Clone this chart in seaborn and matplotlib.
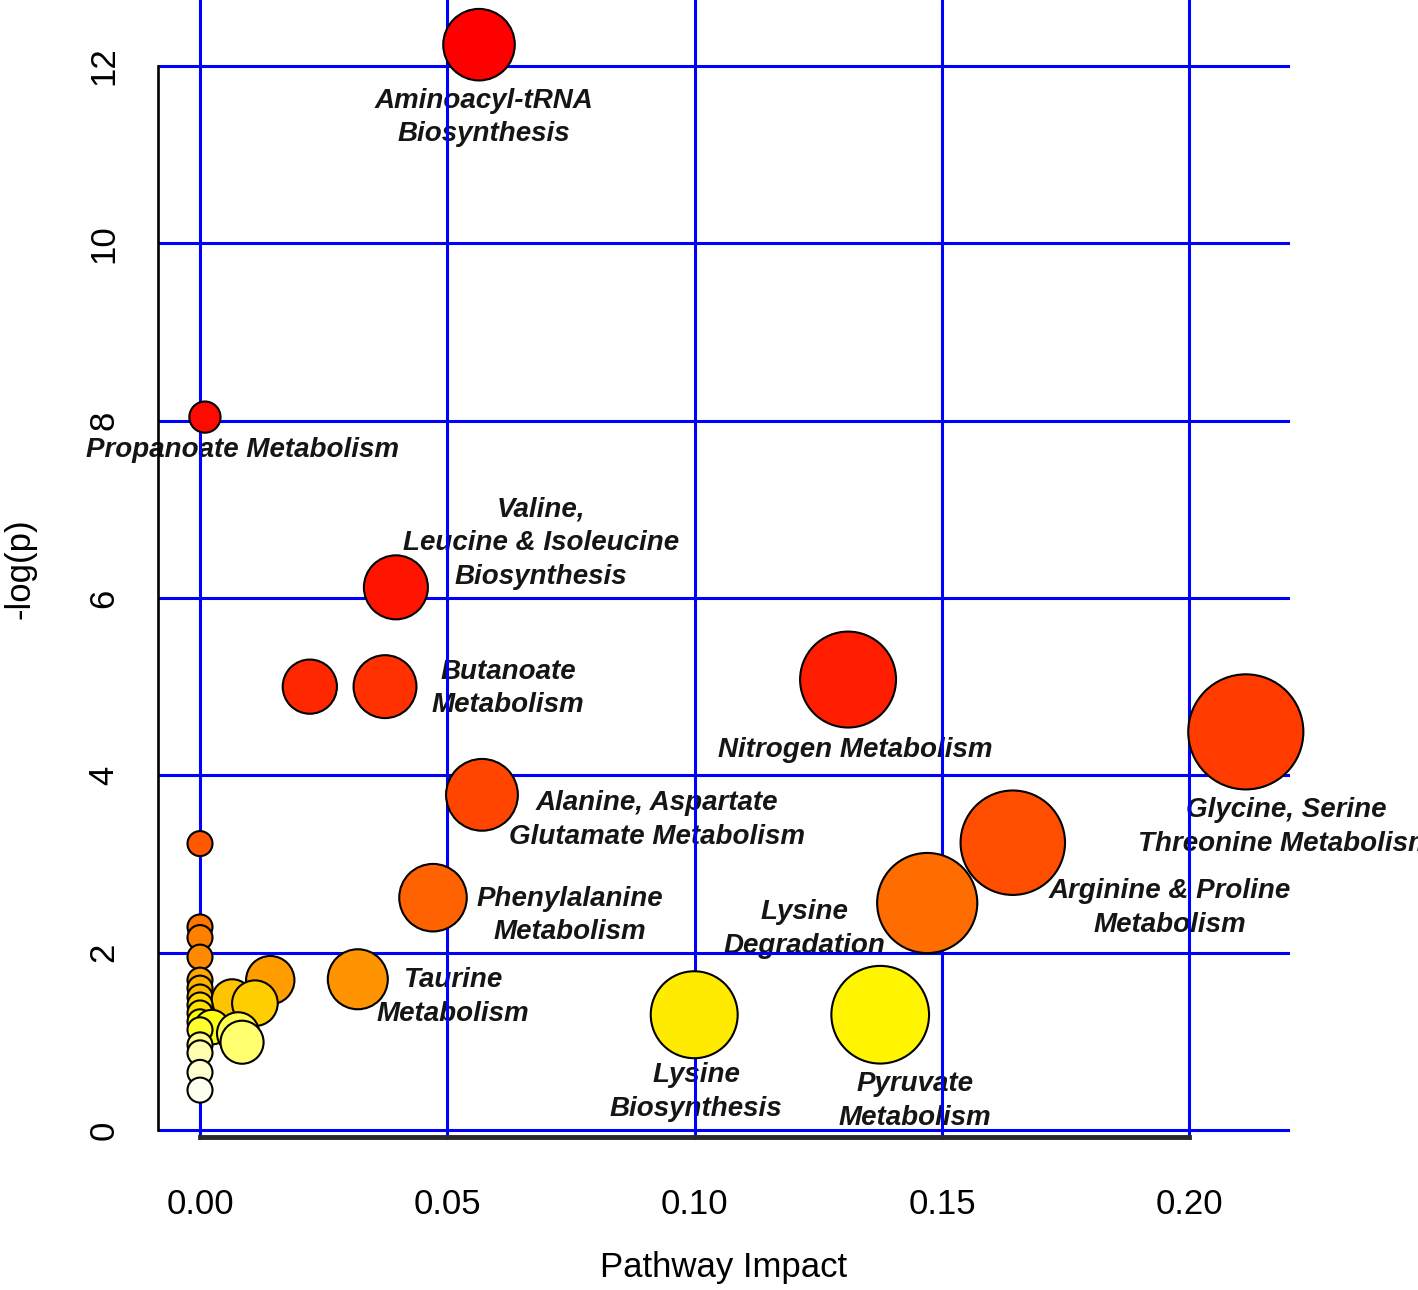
import numpy as np
import pandas as pd
import matplotlib
matplotlib.use("Agg")
import matplotlib.pyplot as plt
import seaborn as sns
import colorsys

# ---------------- data ----------------
pathways = [
    "Aminoacyl-tRNA\nBiosynthesis", "Propanoate Metabolism",
    "Valine,\nLeucine & Isoleucine\nBiosynthesis", "Nitrogen Metabolism",
    "", "Butanoate\nMetabolism", "Glycine, Serine\nThreonine Metabolism",
    "Alanine, Aspartate\nGlutamate Metabolism", "Arginine & Proline\nMetabolism", "",
    "Phenylalanine\nMetabolism", "Lysine\nDegradation", "", "", "",
    "Taurine\nMetabolism", "", "", "", "", "", "", "", "",
    "Lysine\nBiosynthesis", "Pyruvate\nMetabolism", "", "", "", "", "", "", "", "", "",
]
impact = [0.0564, 0.0010, 0.0396, 0.1310, 0.0222, 0.0374, 0.2114, 0.0570, 0.1643, 0.0,
          0.0471, 0.1470, 0.0, 0.0, 0.0, 0.0319, 0.0142, 0.0, 0.0, 0.0,
          0.0065, 0.0111, 0.0, 0.0, 0.0999, 0.1375, 0.0, 0.0024, 0.0, 0.0077,
          0.0085, 0.0, 0.0, 0.0, 0.0]
neglogp = [12.24, 8.04, 6.12, 5.08, 5.00, 5.00, 4.49, 3.78, 3.24, 3.23,
           2.62, 2.56, 2.29, 2.17, 1.95, 1.70, 1.69, 1.69, 1.60, 1.50,
           1.47, 1.43, 1.41, 1.32, 1.30, 1.30, 1.22, 1.16, 1.13, 1.09,
           0.99, 0.96, 0.87, 0.65, 0.45]
x_ticks = [0.00, 0.05, 0.10, 0.15, 0.20]
x_ticklabels = ["0.00", "0.05", "0.10", "0.15", "0.20"]
y_ticks = [0, 2, 4, 6, 8, 10, 12]
y_ticklabels = ["0", "2", "4", "6", "8", "10", "12"]

# label placement (offset from the bubble centre, pixels)
label_offsets = {
    "Aminoacyl-tRNA\nBiosynthesis": (5, -73),
    "Propanoate Metabolism": (38, -33),
    "Valine,\nLeucine & Isoleucine\nBiosynthesis": (145, 44),
    "Butanoate\nMetabolism": (123, -2),
    "Nitrogen Metabolism": (7, -70),
    "Glycine, Serine\nThreonine Metabolism": (40, -95),
    "Alanine, Aspartate\nGlutamate Metabolism": (175, -25),
    "Arginine & Proline\nMetabolism": (157, -65),
    "Phenylalanine\nMetabolism": (137, -18),
    "Lysine\nDegradation": (-123, -26),
    "Taurine\nMetabolism": (95, -18),
    "Lysine\nBiosynthesis": (2, -77),
    "Pyruvate\nMetabolism": (35, -86),
}

df = pd.DataFrame({"pathway": pathways, "impact": impact, "neglogp": neglogp})
df["pid"] = [str(i) for i in range(len(df))]


# R heat.colors(n) palette, assigned by p-value rank
def heat_colors(n):
    j = n // 4
    i = n - j
    cols = []
    for h in np.linspace(0, 1 / 6, i):
        cols.append(colorsys.hsv_to_rgb(h, 1, 1))
    if j > 0:
        for s in np.linspace(1 - 1 / (2 * j), 1 / (2 * j), j):
            cols.append(colorsys.hsv_to_rgb(1 / 6, s, 1))
    return cols


n = len(df)
pal_list = heat_colors(n)
rank = df["neglogp"].rank(ascending=False, method="first").astype(int) - 1
palette = {pid: pal_list[r] for pid, r in zip(df["pid"], rank)}

# bubble size from impact (pixel radius -> points^2)
DPI = 100
radius_px = 13.5 + 98 * np.sqrt(df["impact"].to_numpy())
sizes = (2 * (radius_px - 1) * 72 / DPI) ** 2

# ---------------- figure ----------------
sns.set_style("white")
plt.rcParams["font.family"] = ["Liberation Sans", "DejaVu Sans"]
plt.rcParams["text.color"] = "black"
plt.rcParams["axes.labelcolor"] = "black"

W, H = 1418, 1290
fig = plt.figure(figsize=(W / DPI, H / DPI), dpi=DPI)
ax_l, ax_r, ax_t, ax_b = 158, 1290, 0, 1140
ax = fig.add_axes([ax_l / W, 1 - ax_b / H, (ax_r - ax_l) / W, (ax_b - ax_t) / H])

px_per_x = 4947.0
px_per_y = 88.67
x0_px, y0_px = 200, 1130
ax.set_xlim((ax_l - x0_px) / px_per_x, (ax_r - x0_px) / px_per_x)
ax.set_ylim((y0_px - ax_b) / px_per_y, (y0_px - ax_t) / px_per_y)

sns.scatterplot(data=df, x="impact", y="neglogp", hue="pid", palette=palette,
                s=sizes, edgecolor="black", linewidth=1.5, legend=False,
                ax=ax, zorder=3, clip_on=False)

# grid (blue), between text and bubbles
ax.set_xticks(x_ticks)
ax.set_xticklabels(x_ticklabels)
ax.set_yticks(y_ticks)
ax.set_yticklabels(y_ticklabels, rotation=90, va="center")
ax.set_axisbelow("line")
ax.grid(True, color="#0000FF", linewidth=2.2)

# spines
for s in ["top", "right"]:
    ax.spines[s].set_visible(False)
ax.spines["left"].set_bounds(0, 12)
ax.spines["left"].set_linewidth(1.9)
ax.spines["left"].set_color("black")
ax.spines["bottom"].set_bounds(0, 0.20)
ax.spines["bottom"].set_position(("data", (y0_px - 1137) / px_per_y))
ax.spines["bottom"].set_linewidth(3.5)
ax.spines["bottom"].set_color("#2a2a2a")

ax.tick_params(axis="x", direction="out", length=15, width=1.5, color="black",
               pad=22, labelsize=25, labelcolor="black")
ax.tick_params(axis="y", direction="out", length=15, width=1.5, color="black",
               pad=12, labelsize=25, labelcolor="black")

ax.set_xlabel("Pathway Impact", fontsize=25, va="center", ha="center", color="black")
ax.xaxis.set_label_coords((724 - ax_l) / (ax_r - ax_l), (ax_b - 1268) / (ax_b - ax_t))
ax.set_ylabel("-log(p)", fontsize=25, va="center", ha="center", rotation=90, color="black")
ax.yaxis.set_label_coords((20 - ax_l) / (ax_r - ax_l), (ax_b - 569) / (ax_b - ax_t))

# pathway labels
for _, row in df.iterrows():
    name = row["pathway"]
    if not name:
        continue
    dx, dy = label_offsets[name]
    ax.annotate(name, xy=(row["impact"], row["neglogp"]), xytext=(dx, dy),
                textcoords="offset pixels", ha="center", va="center",
                multialignment="center", fontsize=20, fontweight="bold",
                fontstyle="italic", color="#151515", linespacing=1.38,
                zorder=1, annotation_clip=False, clip_on=False)

fig.savefig("out.png", dpi=DPI)
